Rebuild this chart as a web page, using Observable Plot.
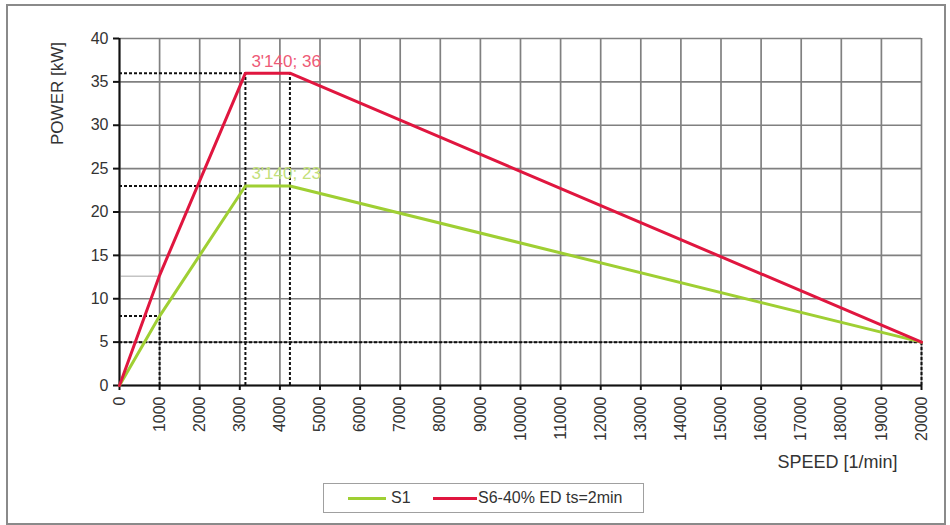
<!DOCTYPE html>
<html><head><meta charset="utf-8">
<script src="https://cdn.jsdelivr.net/npm/d3@7"></script>
<script src="https://cdn.jsdelivr.net/npm/@observablehq/plot@0.6"></script>
<style>
body{margin:0;background:#fff;font-family:"Liberation Sans",Arial,sans-serif;}
#wrap{position:relative;width:950px;height:525px;overflow:hidden;}
#border{position:absolute;left:6px;top:4px;width:936px;height:517px;border:2px solid #8a8a8a;pointer-events:none;}
#legend{position:absolute;left:323px;top:483px;width:321px;height:30px;border:1px solid #a0a0a0;box-sizing:border-box;font-size:16px;color:#333;}
#legend .sw{position:absolute;top:13px;height:3px;}
#legend .lb{position:absolute;top:5px;white-space:nowrap;}
</style></head>
<body>
<div id="wrap">
  <div id="chart"></div>
  <div id="border"></div>
  <div id="legend"></div>
</div>
<script>
const xTicks = [0,1000,2000,3000,4000,5000,6000,7000,8000,9000,10000,11000,12000,13000,14000,15000,16000,17000,18000,19000,20000];
const yTicks = [0,5,10,15,20,25,30,35,40];

const seriesNames = ["S1", "S6-40% ED ts=2min"];
const seriesColors = ["#9fcf33", "#e0163f"];

const s1Speed = [0, 1000, 3140, 4250, 20000];
const s1Power = [0, 8, 23, 23, 5];
const s6Speed = [0, 1000, 3140, 4250, 20000];
const s6Power = [0, 12.7, 36, 36, 5];

// dashed guide lines (value markers)
const guideHy  = [36, 23, 8, 5];
const guideHx2 = [3140, 3140, 1000, 20000];
const guideVx  = [3140, 4250, 1000, 20000];
const guideVy2 = [36, 36, 8, 5];

const peakLabels = ["3'140; 36", "3'140; 23"];
const peakX = [3140, 3140];
const peakY = [36, 23];

const s1 = s1Speed.map((s, i) => ({speed: s, power: s1Power[i]}));
const s6 = s6Speed.map((s, i) => ({speed: s, power: s6Power[i]}));
const gH = guideHy.map((y, i) => ({y, x1: 0, x2: guideHx2[i]}));
const gV = guideVx.map((x, i) => ({x, y1: 0, y2: guideVy2[i]}));
const labels = peakLabels.map((t, i) => ({t, x: peakX[i], y: peakY[i], c: i === 0 ? "#ee5a76" : "#c3e07a"}));

const chart = Plot.plot({
  width: 950,
  height: 525,
  marginLeft: 119,
  marginRight: 29,
  marginTop: 38,
  marginBottom: 140,
  style: {fontFamily: "'Liberation Sans', Arial, sans-serif", fontSize: "16px", color: "#333", background: "transparent"},
  x: {domain: [0, 20000]},
  y: {domain: [0, 40]},
  marks: [
    Plot.gridX(xTicks, {stroke: "#808080", strokeOpacity: 1, strokeWidth: 1.7}),
    Plot.gridY(yTicks, {stroke: "#808080", strokeOpacity: 1, strokeWidth: 1.7}),
    Plot.ruleY([12.6], {x1: 0, x2: 1000, stroke: "#c4c4c4", strokeWidth: 1.5}),
    Plot.ruleY(gH, {y: "y", x1: "x1", x2: "x2", stroke: "#111", strokeWidth: 2, strokeDasharray: "3,2"}),
    Plot.ruleX(gV, {x: "x", y1: "y1", y2: "y2", stroke: "#111", strokeWidth: 2, strokeDasharray: "3,2"}),
    Plot.ruleY([0], {stroke: "#111", strokeWidth: 2}),
    Plot.ruleX([0], {stroke: "#111", strokeWidth: 2}),
    Plot.axisX(xTicks, {tickRotate: -90, tickSize: 5, tickPadding: 6, tickFormat: d => String(d), label: null, stroke: "#111", strokeWidth: 2, fill: "#333"}),
    Plot.axisY(yTicks, {tickSize: 6, tickPadding: 5, label: null, stroke: "#111", strokeWidth: 2, fill: "#333"}),
    Plot.line(s1, {x: "speed", y: "power", stroke: seriesColors[0], strokeWidth: 3}),
    Plot.line(s6, {x: "speed", y: "power", stroke: seriesColors[1], strokeWidth: 3}),
    Plot.text(labels, {x: "x", y: "y", text: "t", fill: "c", textAnchor: "start", dx: 6, dy: -12, fontSize: 17}),
    Plot.text(["POWER [kW]"], {frameAnchor: "top-left", textAnchor: "middle", dx: -69, dy: 55, rotate: -90, fontSize: 17, fill: "#333"}),
    Plot.text(["SPEED [1/min]"], {frameAnchor: "bottom-right", textAnchor: "end", dx: -24, dy: 82, fontSize: 18, fill: "#333"})
  ]
});
document.getElementById("chart").appendChild(chart);

const legend = document.getElementById("legend");
const pos = [{sw: 24, w: 38, lb: 67}, {sw: 109, w: 44, lb: 154}];
seriesNames.forEach((n, i) => {
  const s = document.createElement("div");
  s.className = "sw";
  s.style.left = pos[i].sw + "px";
  s.style.width = pos[i].w + "px";
  s.style.background = seriesColors[i];
  legend.appendChild(s);
  const l = document.createElement("div");
  l.className = "lb";
  l.style.left = pos[i].lb + "px";
  l.textContent = n;
  legend.appendChild(l);
});
</script>
</body></html>
